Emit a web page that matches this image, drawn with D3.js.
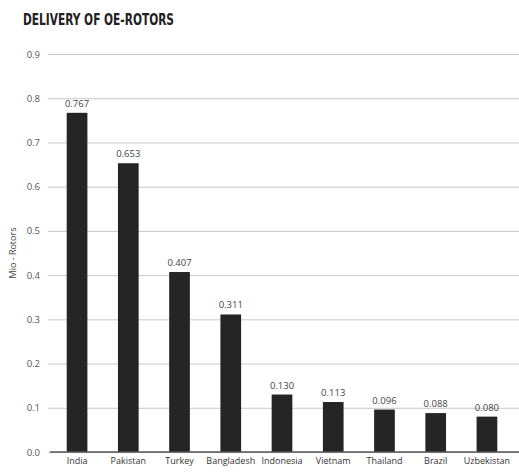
<!DOCTYPE html>
<html><head><meta charset="utf-8">
<script src="https://cdn.jsdelivr.net/npm/d3@7"></script>
<style>body{margin:0;background:#fff;} text{font-family:"Open Sans",sans-serif;}</style>
</head><body>
<svg id="c" width="519" height="472"></svg>
<script>
const categories = ["India","Pakistan","Turkey","Bangladesh","Indonesia","Vietnam","Thailand","Brazil","Uzbekistan"];
const values = [0.767,0.653,0.407,0.311,0.130,0.113,0.096,0.088,0.080];
const valueLabels = ["0.767","0.653","0.407","0.311","0.130","0.113","0.096","0.088","0.080"];
const yTicks = [0,0.1,0.2,0.3,0.4,0.5,0.6,0.7,0.8,0.9];
const title = "DELIVERY OF OE-ROTORS";
const yTitle = "Mio - Rotors";

const svg = d3.select("#c");
const x = d3.scaleBand().domain(categories).range([50,514]).paddingInner(0.596).paddingOuter(0.326);
const y = d3.scaleLinear().domain([0,0.9]).range([452,54]);

svg.append("text").attr("x",23).attr("y",25).text(title)
  .attr("textLength",151).attr("lengthAdjust","spacingAndGlyphs")
  .style("font-family","'DejaVu Sans Condensed','DejaVu Sans',sans-serif")
  .style("font-weight","bold").style("font-size","15px").attr("fill","#222");

// grid
const yAxis = d3.axisLeft(y).tickValues(yTicks).tickFormat(d3.format(".1f")).tickSize(-471).tickPadding(8);
const ga = svg.append("g").attr("transform","translate(48,0)").call(yAxis);
ga.select(".domain").remove();
ga.selectAll(".tick line").attr("stroke","#c8c8c8").attr("stroke-width",1);
ga.selectAll(".tick text").attr("fill","#555").style("font-size","9.5px").style("font-family","'Open Sans',sans-serif");

svg.append("text").attr("transform","translate(16,253) rotate(-90)").attr("text-anchor","middle")
  .style("font-size","9px").attr("fill","#444").text(yTitle);

svg.selectAll("rect.bar").data(values).join("rect").attr("class","bar")
  .attr("x",(d,i)=>x(categories[i])).attr("width",x.bandwidth())
  .attr("y",d=>y(d)).attr("height",d=>y(0)-y(d)).attr("fill","#252525");

svg.selectAll("text.vl").data(values).join("text").attr("class","vl")
  .attr("x",(d,i)=>x(categories[i])+x.bandwidth()/2).attr("y",d=>y(d)-6)
  .attr("text-anchor","middle").style("font-size","9.5px").attr("fill","#444")
  .text((d,i)=>valueLabels[i]);

const xAxis = d3.axisBottom(x).tickSize(0).tickPadding(6);
const gx = svg.append("g").attr("transform",`translate(0,${y(0)})`).call(xAxis);
gx.select(".domain").attr("d","M50,0H519").attr("stroke","#555").attr("stroke-width",1.5);
gx.selectAll(".tick text").attr("fill","#333").style("font-size","9px").style("font-family","'Open Sans',sans-serif");
</script>
</body></html>
